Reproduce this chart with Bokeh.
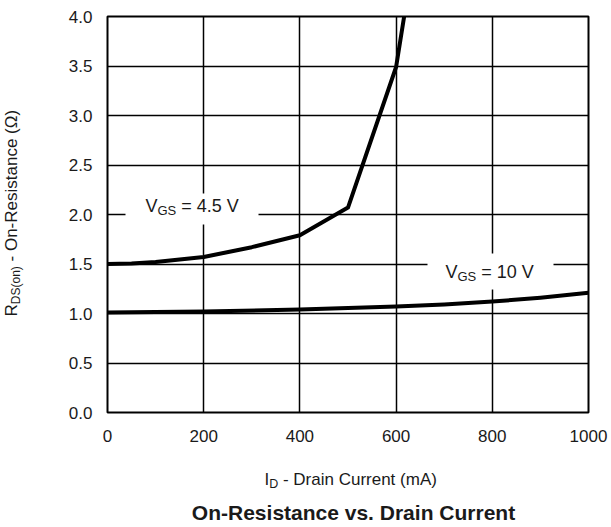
import math
from bokeh.plotting import figure
from bokeh.models import Range1d, FixedTicker, Label, BoxAnnotation
from bokeh.embed import file_html
from bokeh.resources import INLINE

# ---------------- data ----------------
id_45 = [0, 50, 100, 200, 300, 400, 500, 600, 620]          # mA
rds_45 = [1.50, 1.505, 1.52, 1.57, 1.67, 1.79, 2.07, 3.49, 4.10]  # ohm

id_10 = [0, 200, 400, 600, 700, 800, 900, 1000]
rds_10 = [1.01, 1.02, 1.04, 1.07, 1.09, 1.12, 1.16, 1.21]

x_ticks = [0, 200, 400, 600, 800, 1000]
y_ticks = [0.0, 0.5, 1.0, 1.5, 2.0, 2.5, 3.0, 3.5, 4.0]
y_tick_labels = {v: f"{v:.1f}" for v in y_ticks}

X_RANGE = (0, 1000)
Y_RANGE = (0, 4)

FONT = "Liberation Sans"
TXT = "#1a1a1a"
NB = "\u00a0"

# frame geometry in pixels
W, H = 611, 527
FX0, FX1, FYB, FYT = 107, 588, 412, 16
SHIFT = 6  # baseline correction of Label text


def px_x(px):
    return X_RANGE[0] + (px - FX0) * (X_RANGE[1] - X_RANGE[0]) / (FX1 - FX0)


def px_y(py):
    return Y_RANGE[0] + (FYB - py) * (Y_RANGE[1] - Y_RANGE[0]) / (FYB - FYT)


p = figure(width=W, height=H, output_backend="svg", toolbar_location=None,
           x_range=Range1d(*X_RANGE), y_range=Range1d(*Y_RANGE),
           min_border_left=FX0, min_border_right=W - FX1,
           min_border_top=FYT, min_border_bottom=H - FYB)
p.background_fill_color = "white"
p.border_fill_color = "white"
p.outline_line_color = "black"
p.outline_line_width = 2

p.xaxis.ticker = FixedTicker(ticks=x_ticks)
p.yaxis.ticker = FixedTicker(ticks=y_ticks)
p.yaxis.major_label_overrides = y_tick_labels
for ax in (p.xaxis, p.yaxis):
    ax.axis_line_color = None
    ax.major_tick_line_color = None
    ax.minor_tick_line_color = None
    ax.major_label_text_font = FONT
    ax.major_label_text_font_size = "17px"
    ax.major_label_text_color = TXT
p.xaxis.major_label_standoff = 11
p.yaxis.major_label_standoff = 9

for g in (p.xgrid, p.ygrid):
    g.grid_line_color = "black"
    g.grid_line_width = 1.5
    g.grid_line_alpha = 1.0

p.line(id_10, rds_10, line_color="black", line_width=4, line_join="round", line_cap="round")
p.line(id_45, rds_45, line_color="black", line_width=4, line_join="round", line_cap="round")

# white boxes behind the curve labels
for (l, r, t, b) in [(125, 258, 193, 224), (427, 553, 253, 289)]:
    p.add_layout(BoxAnnotation(left=px_x(l), right=px_x(r), top=px_y(t), bottom=px_y(b),
                               fill_color="white", fill_alpha=1.0, line_alpha=0.0))


def piece(text, xpx, ypx, size, angle=0.0, bold=False, place="center", align="left"):
    if angle:
        xpx -= SHIFT
    else:
        ypx -= SHIFT
    lab = Label(x=px_x(xpx), y=px_y(ypx), text=text, text_font=FONT,
                text_font_size=f"{size}px", text_color=TXT, angle=angle,
                text_font_style="bold" if bold else "normal",
                text_align=align, text_baseline="alphabetic")
    if place == "center":
        p.add_layout(lab)
    else:
        p.add_layout(lab, place)


# V_GS = 4.5 V
piece("V", 145, 211, 18)
piece("GS", 157, 216, 13)
piece(NB + "=" + NB + "4.5" + NB + "V", 175.8, 211, 18)

# V_GS = 10 V
piece("V", 445, 277, 18)
piece("GS", 457, 282, 13)
piece(NB + "=" + NB + "10" + NB + "V", 475.8, 277, 18)

# x-axis title: I_D - Drain Current (mA)
piece("I", 264, 485, 17, place="below")
piece("D", 268.7, 489, 12.5, place="below")
piece(NB + "-" + NB + "Drain Current (mA)", 277.7, 485, 17, place="below")

# y-axis title: R_DS(on) - On-Resistance (Ω)
piece("R", 17, 316, 17, angle=math.pi / 2, place="left")
piece("DS(on)", 21, 303.7, 12, angle=math.pi / 2, place="left")
piece(NB + "-" + NB + "On-Resistance (Ω)", 17, 265.7, 17, angle=math.pi / 2, place="left")

# chart caption
piece("On-Resistance vs. Drain Current", 353, 518, 21, bold=True, place="below", align="center")

open("out.html", "w").write(file_html(p, INLINE))
